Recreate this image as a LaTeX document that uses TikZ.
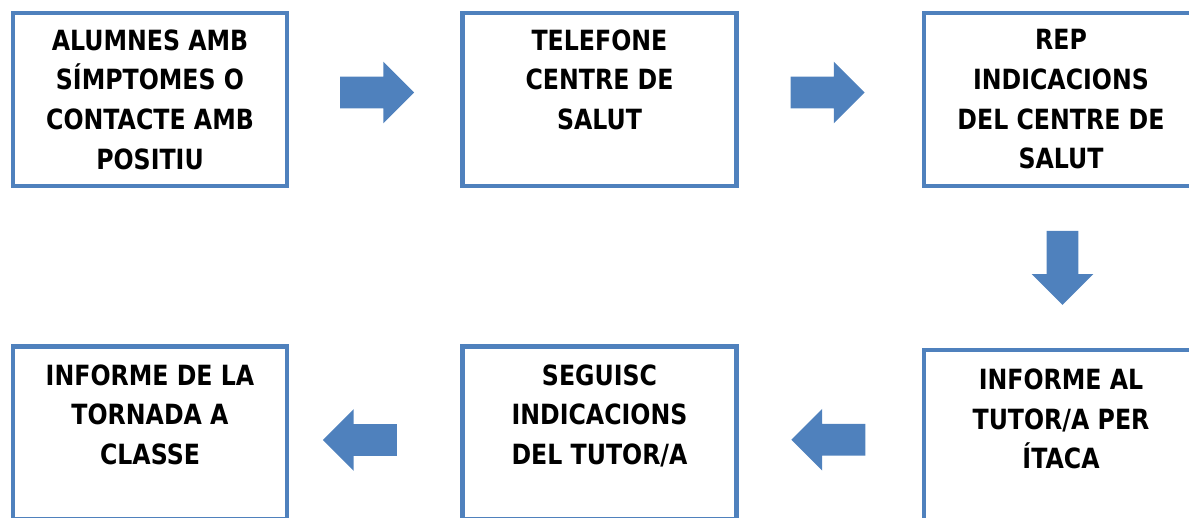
\documentclass[tikz,border=0pt]{standalone}
\usepackage{fontspec}
\setmainfont{DejaVu Sans}[FakeStretch=0.85]
\usetikzlibrary{shapes.arrows,positioning,calc}
\definecolor{boxblue}{HTML}{4F81BD}
\tikzset{
 stepbox/.style={draw=boxblue,line width=0.11cm,minimum width=6.85cm,minimum height=4.325cm,inner sep=0},
 steptext/.style={align=center,inner sep=0,font=\fontsize{19.8}{28.2}\selectfont\bfseries},
 flowarrow/.style={single arrow,fill=boxblue,draw=none,minimum height=1.85cm,inner xsep=0,inner ysep=0.3875cm,single arrow head extend=0.375cm}
}
\begin{document}
\begin{tikzpicture}[x=0.025cm,y=-0.025cm]
\useasboundingbox(0,0)rectangle(1189,518);
\clip(0,0)rectangle(1189,518);
%
\node[stepbox](alumnes)at(150,99.5){};
\node[stepbox](telefone)at(599.5,99.5){};
\node[stepbox](rep)at(1061,99.5){};
\node[stepbox](tornada)at(150,433){};
\node[stepbox](seguisc)at(599.5,433){};
\node[stepbox](itaca)at(1061,436.5){};
%
\node[steptext,below=0.46cm of alumnes.north](alumnestxt){ALUMNES AMB\\SÍMPTOMES O\\CONTACTE AMB\\POSITIU};
\node[steptext,below=0.46cm of telefone.north](telefonetxt){TELEFONE\\CENTRE DE\\SALUT};
\node[steptext,below=0.46cm of rep.north](reptxt){REP\\INDICACIONS\\DEL CENTRE DE\\SALUT};
\node[steptext,below=0.52cm of itaca.north](itacatxt){INFORME AL\\TUTOR/A PER\\ÍTACA};
\node[steptext,below=0.5cm of seguisc.north](seguisctxt){SEGUISC\\INDICACIONS\\DEL TUTOR/A};
\node[steptext,below=0.5cm of tornada.north](tornadatxt){INFORME DE LA\\TORNADA A\\CLASSE};
%
\node[flowarrow](a1)at($(alumnes.east)!0.5!(telefone.west)+(-5.5,-7)$){};
\node[flowarrow](a2)at($(telefone.east)!0.5!(rep.west)+(-10.5,-7)$){};
\node[flowarrow,rotate=-90](a3)at($(rep.south)!0.5!(itaca.north)+(1.5,-8)$){};
\node[flowarrow,rotate=180](a4)at($(seguisc.east)!0.5!(itaca.west)+(6,5)$){};
\node[flowarrow,rotate=180](a5)at($(tornada.east)!0.5!(seguisc.west)+(-7,7)$){};
\end{tikzpicture}
\end{document}
